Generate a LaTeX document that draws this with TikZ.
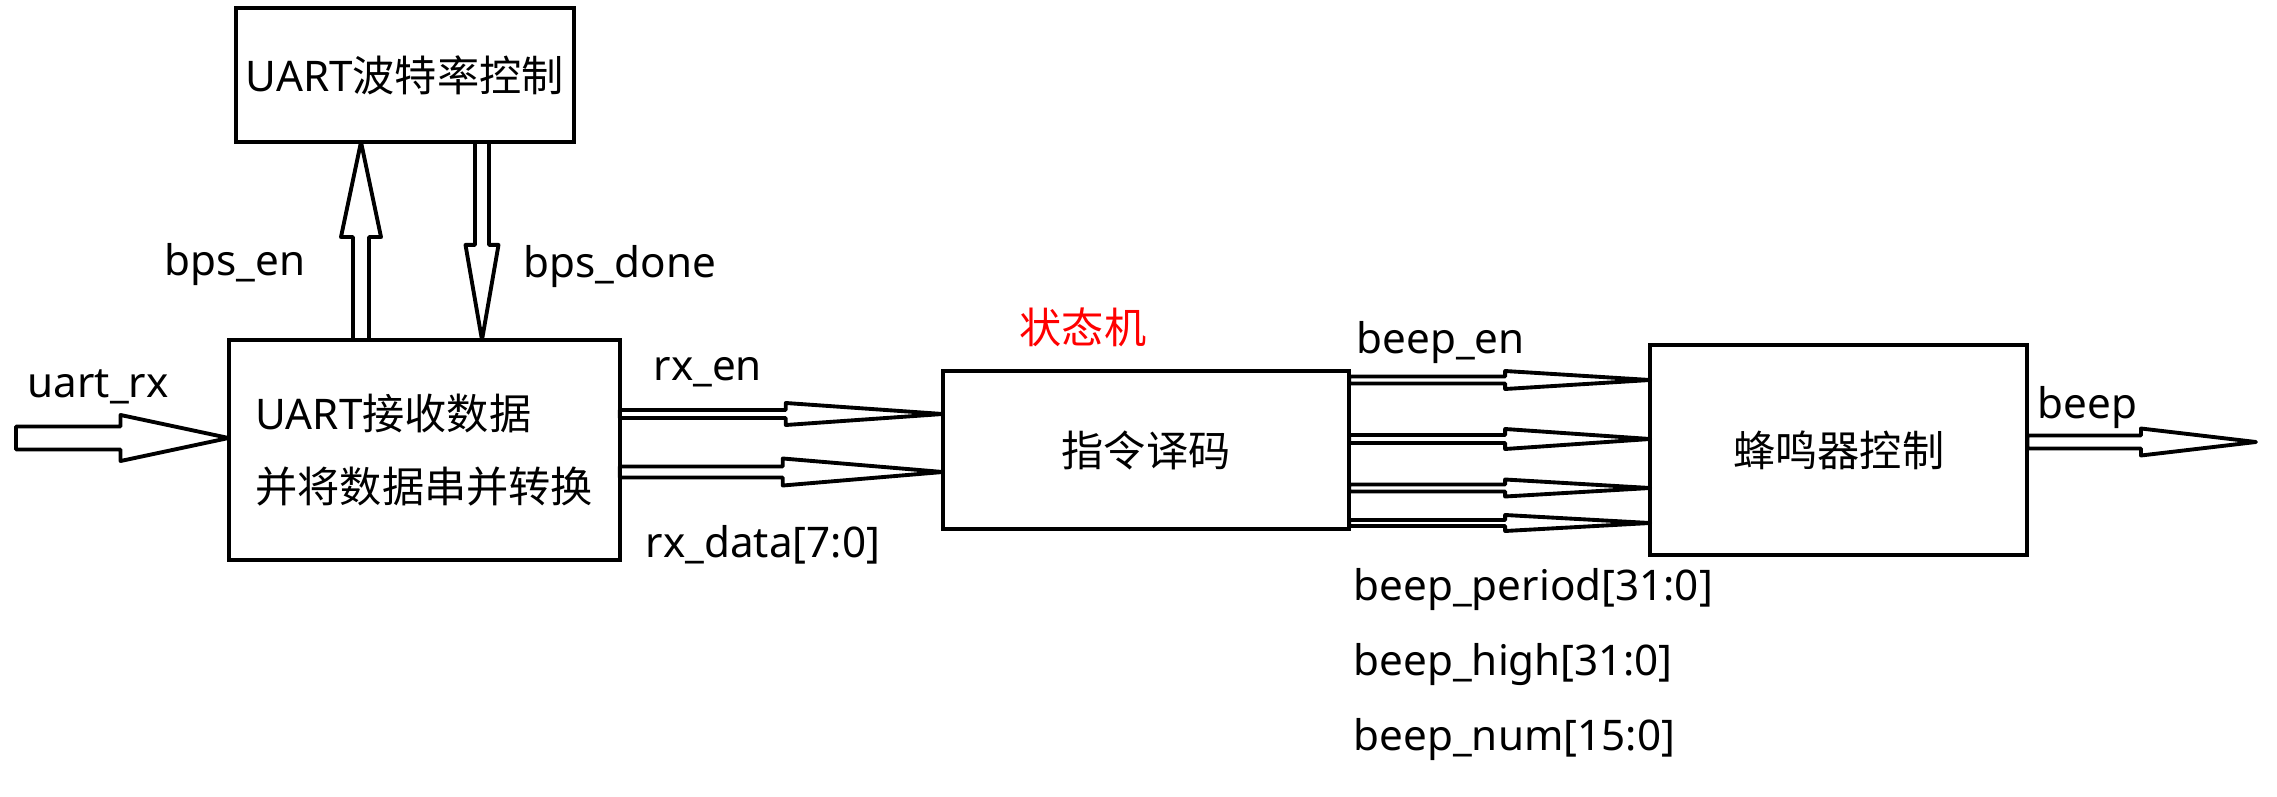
\documentclass[tikz,border=0pt]{standalone}
\usepackage{fontspec}
\setmainfont{Noto Sans}
\newfontfamily\cjk{Noto Sans CJK SC}
\usetikzlibrary{calc,matrix}

\begin{document}
\begin{tikzpicture}[x=0.01cm,y=-0.01cm,font=\fontsize{12}{14}\selectfont,
  block/.style={draw,line width=1.1pt,inner sep=0pt,outer sep=0pt},
  blank/.style={inner sep=0pt},
  txt/.style={inner sep=0pt,anchor=base west},
  bus/.style args={#1/#2/#3}{line width=1.1pt,line join=round,to path={let \p1=(\tikztostart),\p2=(\tikztotarget),\p3=($(\p2)!#3!(\p1)$) in
    ($(\p1)!#1!90:(\p2)$) -- ($(\p3)!#1!90:(\p2)$) -- ($(\p3)!#2!90:(\p2)$) -- (\p2) -- ($(\p3)!#2!-90:(\p2)$) -- ($(\p3)!#1!-90:(\p2)$) -- ($(\p1)!#1!-90:(\p2)$) -- cycle}}]
\useasboundingbox (0,0) rectangle (2277,797);
\matrix[row sep=1.94cm,column sep=2.97cm,inner sep=0pt] at (1128,284)
{
\node(baud)[block,minimum width=3.38cm,minimum height=1.34cm,xshift=-0.195cm]{UART{\cjk 波特率控制}};  \pgfmatrixnextcell[0.22cm] \node()[blank]{};  \pgfmatrixnextcell \node()[blank]{};\\
\node(rx)[block,minimum width=3.91cm,minimum height=2.2cm,align=left,font=\fontsize{12}{21}\selectfont]{UART{\cjk 接收数据}\\{\cjk 并将数据串并转换}};  \pgfmatrixnextcell[0.22cm] \node(dec)[block,minimum width=4.06cm,minimum height=1.58cm]{\cjk 指令译码};  \pgfmatrixnextcell \node(beep)[block,minimum width=3.77cm,minimum height=2.1cm]{\cjk 蜂鸣器控制};\\
};

\coordinate (uartin) at (16,438);
\coordinate (enx) at (361,0);
\coordinate (donex) at (482,0);
\coordinate (rxen) at (0,414);
\coordinate (rxdata) at (0,472);
\coordinate (beepout) at (2256,442);

\draw [bus=0.115cm/0.23cm/1.08cm] (uartin) to (uartin -| rx.west);
\draw [bus=0.08cm/0.2cm/0.95cm] (enx |- rx.north) to (enx |- baud.south);
\draw [bus=0.07cm/0.165cm/0.95cm] (donex |- baud.south) to (donex |- rx.north);
\draw [bus=0.04cm/0.11cm/1.57cm] (rxen -| rx.east) to (rxen -| dec.west);
\draw [bus=0.055cm/0.135cm/1.6cm] (rxdata -| rx.east) to (rxdata -| dec.west);
\draw [bus=0.035cm/0.09cm/1.45cm] (dec.east |- 0,380) to (beep.west |- 0,380);
\draw [bus=0.04cm/0.1cm/1.45cm] (dec.east |- 0,439) to (beep.west |- 0,439);
\draw [bus=0.035cm/0.085cm/1.45cm] (dec.east |- 0,488) to (beep.west |- 0,488);
\draw [bus=0.03cm/0.08cm/1.45cm] (dec.east |- 0,523) to (beep.west |- 0,523);
\draw [bus=0.065cm/0.135cm/1.15cm] (beepout -| beep.east) to (beepout);

\node(uartrx)[txt] at (27,397) {uart\_rx};
\node(bpsen)[txt] at (164,275) {bps\_en};
\node(bpsdone)[txt] at (523,277) {bps\_done};
\node(rxenl)[txt] at (653,380) {rx\_en};
\node(rxdatal)[txt] at (645,557) {rx\_data[7:0]};
\node(fsm)[inner sep=0pt,text=red] at (1083,327) {\cjk 状态机};
\node(beepen)[txt] at (1356,353) {beep\_en};
\node(beepl)[txt] at (2037,418) {beep};
\node(period)[txt] at (1353,600) {beep\_period[31:0]};
\node(high)[txt] at (1353,675) {beep\_high[31:0]};
\node(num)[txt] at (1353,750) {beep\_num[15:0]};
\end{tikzpicture}
\end{document}
